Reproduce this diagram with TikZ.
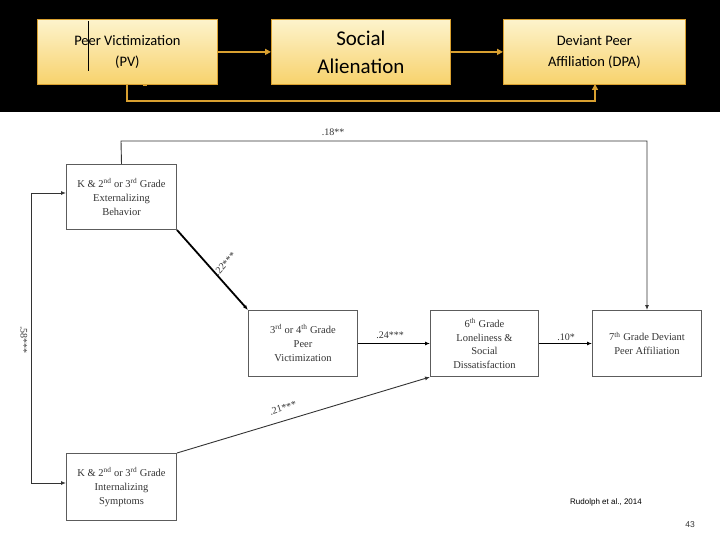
\documentclass[tikz,border=0pt]{standalone}
\usepackage{fontspec}
\setmainfont{Liberation Serif}
\newfontfamily\carl{Carlito}
\newfontfamily\lsans{Liberation Sans}
\usetikzlibrary{arrows.meta}
\definecolor{gold}{HTML}{D9A030}
\definecolor{boxtop}{HTML}{FDF3CC}
\definecolor{boxbot}{HTML}{F7D26C}
\definecolor{ink}{HTML}{333333}
\begin{document}
\begin{tikzpicture}[x=1pt,y=-1pt,
  top/.style={draw=gold,line width=0.8pt,top color=boxtop,bottom color=boxbot,minimum width=180pt,minimum height=65pt,align=center,font=\carl,anchor=north west},
  garr/.style={draw=gold,line width=1.8pt,-{Triangle[length=6pt,width=6pt]}},
  box/.style={draw=ink!80,line width=1pt,minimum width=109pt,minimum height=66pt,align=center,font=\fontsize{10.5}{14}\selectfont,text=ink,anchor=north west,inner sep=1pt},
  arr/.style={draw=ink,line width=0.9pt,-{Latex[length=5pt,width=4pt]}},
  tarr/.style={draw=black,line width=1.8pt,-{Latex[length=5pt,width=4pt]}},
  lab/.style={font=\fontsize{10}{11}\selectfont,text=ink,inner sep=1pt}]
\useasboundingbox (0,0) rectangle (720,540);
\fill[black] (0,0) rectangle (720,112);
\node[top,minimum width=180pt,font=\carl\fontsize{14.5}{21}\selectfont] (pv) at (37,19) {Peer Victimization\\(PV)};
\node[top,minimum width=179pt,font=\carl\fontsize{21}{28}\selectfont] (sa) at (271,19) {Social\\Alienation};
\node[top,minimum width=182pt,font=\carl\fontsize{14.5}{21}\selectfont] (dpa) at (503,19) {Deviant Peer\\Affiliation (DPA)};
\draw[black,line width=0.8pt] (88,21) -- (88,71);
\draw[gold,line width=1pt] (143,86) -- (147,86);
\draw[garr] (pv.east) -- (sa.west);
\draw[garr] (sa.east) -- (dpa.west);
\draw[garr] (127,84) -- (127,101) -- (595,101) -- (595,84);
%
\node[box,minimum width=110pt,minimum height=65pt] (ext) at (66,164) {K \& 2\textsuperscript{nd} or 3\textsuperscript{rd} Grade\\Externalizing\\Behavior};
\node[box] (pvb) at (248,310) {3\textsuperscript{rd} or 4\textsuperscript{th} Grade\\Peer\\Victimization};
\node[box,minimum width=108pt,font=\fontsize{10.5}{13.5}\selectfont] (lon) at (430,310) {6\textsuperscript{th} Grade\\Loneliness \&\\Social\\Dissatisfaction};
\node[box] (dev) at (592,310) {7\textsuperscript{th} Grade Deviant\\Peer Affiliation};
\node[box,minimum width=110pt,minimum height=67pt] (int) at (66,453) {K \& 2\textsuperscript{nd} or 3\textsuperscript{rd} Grade\\Internalizing\\Symptoms};
\coordinate (a1) at (121,141); \coordinate (a2) at (647,141);
\draw[arr] (ext.north) -- (a1) -- (a2) -- (a2 |- dev.north);
\node[lab] at (333,132) {.18**};
\coordinate (c1) at (31,193); \coordinate (c2) at (31,483);
\draw[arr] (c1) -- (ext.west |- c1);
\draw[arr] (c2) -- (int.west |- c2);
\draw[ink,line width=0.9pt] (c1) -- (c2);
\node[lab,rotate=-90] at (24,340) {.58***};
\draw[tarr] (ext.south east) -- (pvb.north west);
\node[lab,rotate=48] at (225,264) {.22***};
\draw[tarr] (pvb.east) -- (lon.west);
\node[lab] at (390,335) {.24***};
\draw[arr] (int.north east) -- (lon.south west);
\node[lab,rotate=17] at (283,408) {.21***};
\draw[tarr] (lon.east) -- (dev.west);
\node[lab] at (566,337) {.10*};
\node[font=\lsans\fontsize{8}{10}\selectfont] (ref) at (606,502) {Rudolph et al., 2014};
\node[font=\lsans\fontsize{8.5}{10}\selectfont,text=ink] (pg) at (690,525) {43};
\end{tikzpicture}
\end{document}
